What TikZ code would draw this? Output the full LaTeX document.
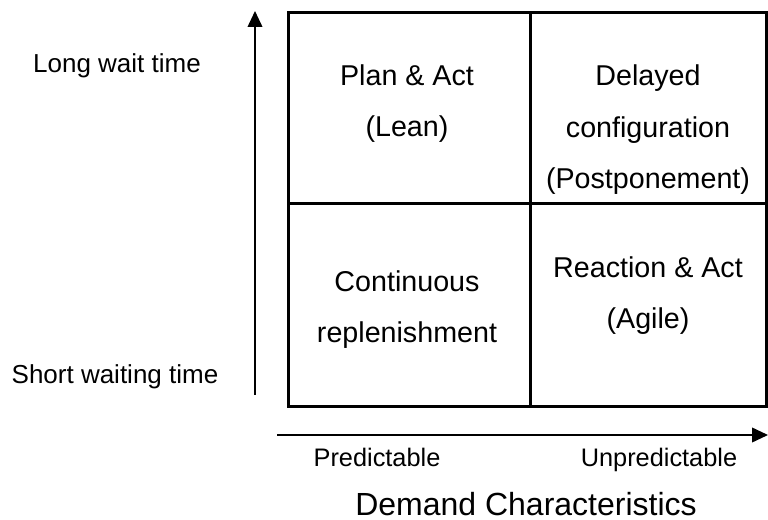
\documentclass[tikz,border=0pt]{standalone}
\usepackage{fontspec}
\setmainfont{Liberation Sans}
\usetikzlibrary{arrows.meta}
\begin{document}
\begin{tikzpicture}[x=0.75pt,y=-0.75pt,
  cell/.style={draw=black,line width=2.2pt,inner sep=0pt,anchor=north west},
  celltext/.style={font=\fontsize{21.5}{26}\selectfont,inner sep=0pt,anchor=base},
  sidelabel/.style={font=\fontsize{19.5}{23}\selectfont,inner sep=0pt,anchor=base},
  axislabel/.style={font=\fontsize{19}{23}\selectfont,inner sep=0pt,anchor=base},
  titlelabel/.style={font=\fontsize{24}{28}\selectfont,inner sep=0pt,anchor=base},
  axis/.style={line width=1.3pt,-{Triangle[length=12pt,width=11pt]}}]
\useasboundingbox (0,0) rectangle (768,520);
% quadrant grid
\node[cell,minimum width=242*0.75pt,minimum height=191*0.75pt] (tl) at (287,11) {};
\node[cell,minimum width=236*0.75pt,minimum height=191*0.75pt] (tr) at (529,11) {};
\node[cell,minimum width=242*0.75pt,minimum height=203*0.75pt] (bl) at (287,202) {};
\node[cell,minimum width=236*0.75pt,minimum height=203*0.75pt] (br) at (529,202) {};
% quadrant texts, one node per line
\node[celltext] (lean1) at (407,86) {Plan \& Act};
\node[celltext] (lean2) at (407,137) {(Lean)};
\node[celltext] (post1) at (648,86) {Delayed};
\node[celltext] (post2) at (648,138) {configuration};
\node[celltext] (post3) at (648,189) {(Postponement)};
\node[celltext] (cont1) at (407,292) {Continuous};
\node[celltext] (cont2) at (407,343) {replenishment};
\node[celltext] (agile1) at (648,278) {Reaction \& Act};
\node[celltext] (agile2) at (648,329) {(Agile)};
% vertical axis
\coordinate (vlow) at (255,395);
\coordinate (vhigh) at (255,11);
\draw[axis] (vlow) -- (vhigh);
\node[sidelabel] (long) at (117,73) {Long wait time};
\node[sidelabel] (short) at (115,383) {Short waiting time};
% horizontal axis
\coordinate (hlow) at (277,435);
\coordinate (hhigh) at (768,435);
\draw[axis] (hlow) -- (hhigh);
\node[axislabel] (pred) at (377,466) {Predictable};
\node[axislabel] (unpred) at (659,466) {Unpredictable};
\node[titlelabel] (demand) at (526,515) {Demand Characteristics};
\end{tikzpicture}
\end{document}
